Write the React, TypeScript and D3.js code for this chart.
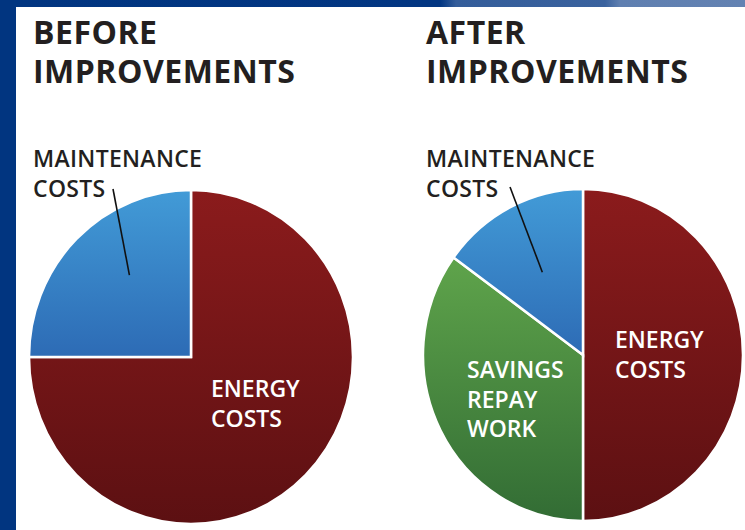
import { useMemo } from 'react';
import * as d3 from 'd3';

// slices run clockwise from 12 o'clock
const beforeCategories = ['ENERGY COSTS', 'MAINTENANCE COSTS'];
const beforeValues = [75, 25];
const afterCategories = ['ENERGY COSTS', 'SAVINGS REPAY WORK', 'MAINTENANCE COSTS'];
const afterValues = [50, 35, 15];
const titles = [['BEFORE', 'IMPROVEMENTS'], ['AFTER', 'IMPROVEMENTS']];

const colors: Record<string, [string, string]> = {
  'ENERGY COSTS': ['#8b1b1c', '#5c1012'],
  'MAINTENANCE COSTS': ['#429bd7', '#2d6bb5'],
  'SAVINGS REPAY WORK': ['#5fa44b', '#326c34'],
};

const W = 745;
const H = 530;
const ink = '#231f20';
const font = '"Open Sans", "Noto Sans", sans-serif';

type Panel = {
  id: string;
  cats: string[];
  vals: number[];
  cx: number;
  cy: number;
  rx: number;
  ry: number;
  title: string[];
  titleX: number;
  leaderFrom: [number, number];
  leaderFrac: number;
  leaderR: number;
  inner: { cat: string; lines: string[]; x: number; y: number }[];
};

const panels: Panel[] = [
  {
    id: 'before', cats: beforeCategories, vals: beforeValues,
    cx: 191, cy: 357, rx: 162, ry: 167,
    title: titles[0], titleX: 33,
    leaderFrom: [113, 189], leaderFrac: 0.58, leaderR: 0.62,
    inner: [{ cat: 'ENERGY COSTS', lines: ['ENERGY', 'COSTS'], x: 211, y: 397 }],
  },
  {
    id: 'after', cats: afterCategories, vals: afterValues,
    cx: 583, cy: 355, rx: 160, ry: 166,
    title: titles[1], titleX: 426,
    leaderFrom: [510, 187], leaderFrac: 0.5, leaderR: 0.56,
    inner: [
      { cat: 'ENERGY COSTS', lines: ['ENERGY', 'COSTS'], x: 615, y: 348 },
      { cat: 'SAVINGS REPAY WORK', lines: ['SAVINGS', 'REPAY', 'WORK'], x: 467, y: 378 },
    ],
  },
];

const PiePanel = ({ p }: { p: Panel }) => {
  const pie = d3.pie<number>().sort(null).value(d => d);
  const slices = pie(p.vals);
  const arc = d3.arc<d3.PieArcDatum<number>>().innerRadius(0).outerRadius(p.rx);
  const sy = p.ry / p.rx;
  const mIdx = p.cats.indexOf('MAINTENANCE COSTS');
  const m = slices[mIdx];
  const a = m.startAngle + (m.endAngle - m.startAngle) * p.leaderFrac;
  const [lx, ly] = d3.pointRadial(a, p.rx * p.leaderR);

  return (
    <g>
      <defs>
        {slices.map((s, i) => {
          const [c0, c1] = colors[p.cats[i]];
          return (
            <linearGradient key={i} id={`${p.id}-g${i}`} x1="0" y1="0" x2="0" y2="1">
              <stop offset="0" stopColor={c0} />
              <stop offset="1" stopColor={c1} />
            </linearGradient>
          );
        })}
      </defs>
      <g transform={`translate(${p.cx},${p.cy}) scale(1,${sy})`}>
        {slices.map((s, i) => (
          <path key={i} d={arc(s) ?? ''} fill={`url(#${p.id}-g${i})`} stroke="#fff" strokeWidth={2.5} strokeLinejoin="miter" />
        ))}
      </g>
      {p.title.map((t, i) => (
        <text key={t} x={p.titleX} y={44 + i * 39} fontFamily={font} fontWeight={700} fontSize={32} fill={ink} letterSpacing={0.5}>{t}</text>
      ))}
      {['MAINTENANCE', 'COSTS'].map((t, i) => (
        <text key={t} x={p.titleX} y={167 + i * 30} fontFamily={font} fontWeight={600} fontSize={23} fill={ink} letterSpacing={0.3}>{t}</text>
      ))}
      <line x1={p.leaderFrom[0]} y1={p.leaderFrom[1]} x2={p.cx + lx} y2={p.cy + ly * sy} stroke="#111" strokeWidth={1.6} />
      {p.inner.map(lab => lab.lines.map((t, i) => (
        <text key={lab.cat + t} x={lab.x} y={lab.y + i * 29.5} fontFamily={font} fontWeight={600} fontSize={23} fill="#fff">{t}</text>
      )))}
    </g>
  );
};

export default function App() {
  const x = useMemo(() => d3.scaleLinear().domain([0, 1]).range([0, W]), []);
  return (
    <svg width={W} height={H} viewBox={`0 0 ${W} ${H}`} style={{ display: 'block', position: 'absolute', left: 0, top: 0, background: '#fff' }}>
      <defs>
        <linearGradient id="band" x1="0" y1="0" x2="1" y2="0">
          <stop offset="0" stopColor="#013580" />
          <stop offset={x.invert(440)} stopColor="#023682" />
          <stop offset={x.invert(456)} stopColor="#345d9a" />
          <stop offset={x.invert(605)} stopColor="#3a629e" />
          <stop offset={x.invert(620)} stopColor="#5f7fb0" />
          <stop offset="1" stopColor="#6382b2" />
        </linearGradient>
      </defs>
      <rect x={0} y={0} width={W} height={H} fill="#fff" />
      <rect x={0} y={0} width={W} height={7} fill="url(#band)" />
      <rect x={0} y={0} width={16} height={H} fill="#013580" />
      {panels.map(p => <PiePanel key={p.id} p={p} />)}
    </svg>
  );
}
